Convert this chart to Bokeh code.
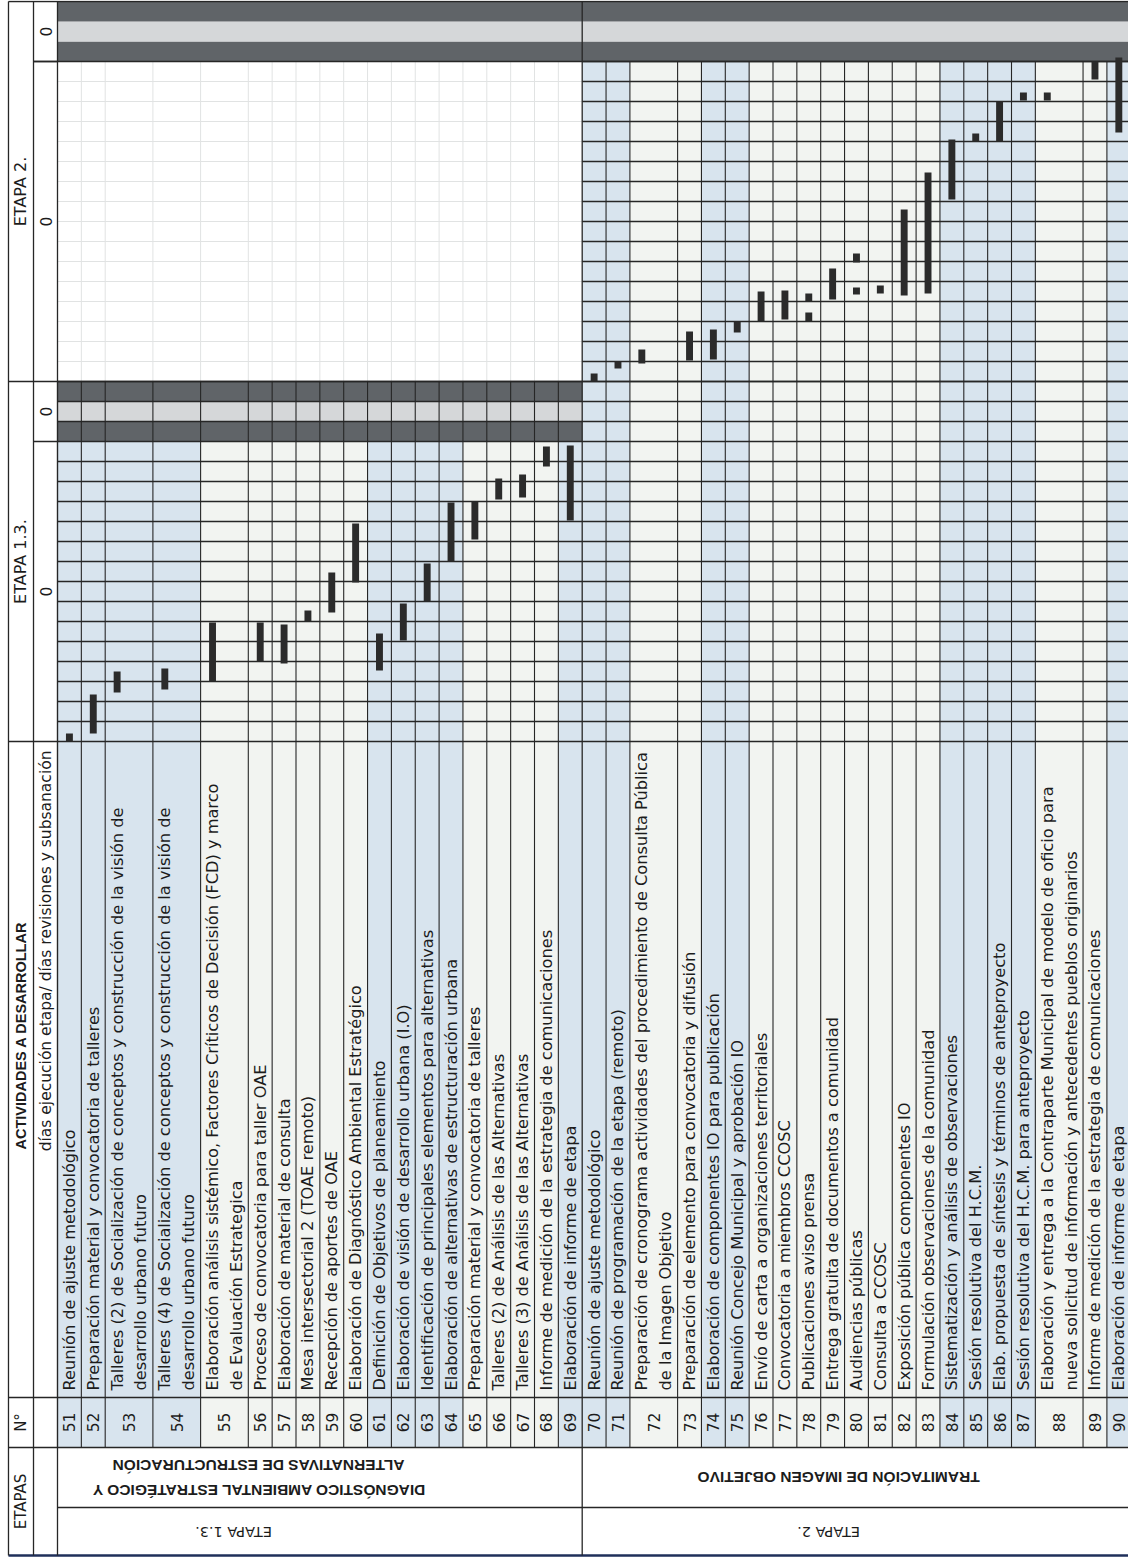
import math
from bokeh.plotting import figure
from bokeh.models import Range1d
from bokeh.core.properties import value
from bokeh.embed import file_html
from bokeh.resources import INLINE

# ---------------- data ----------------
task_no = list(range(51, 91))
task_text = [
    ["Reunión de ajuste metodológico"],
    ["Preparación material y convocatoria de talleres"],
    ["Talleres (2) de Socialización de conceptos y construcción de la visión de", "desarrollo urbano futuro"],
    ["Talleres (4) de Socialización de conceptos y construcción de la visión de", "desarrollo urbano futuro"],
    ["Elaboración análisis sistémico,  Factores Críticos de Decisión (FCD) y marco", "de Evaluación Estrategica"],
    ["Proceso de convocatoria para taller OAE"],
    ["Elaboración de material de consulta"],
    ["Mesa intersectorial 2 (TOAE remoto)"],
    ["Recepción de aportes de OAE"],
    ["Elaboración de  Diagnóstico Ambiental Estratégico"],
    ["Definición de Objetivos de planeamiento"],
    ["Elaboración de visión de desarrollo urbana (I.O)"],
    ["Identificación de principales elementos para alternativas"],
    ["Elaboración de alternativas de estructuración urbana"],
    ["Preparación  material y convocatoria de talleres"],
    ["Talleres (2) de  Análisis de las Alternativas"],
    ["Talleres (3) de  Análisis de las Alternativas"],
    ["Informe de medición de la estrategia de comunicaciones"],
    ["Elaboración de informe de etapa"],
    ["Reunión de ajuste metodológico"],
    ["Reunión de programación de la etapa (remoto)"],
    ["Preparación de cronograma actividades del procedimiento de Consulta Pública", "de la Imagen Objetivo"],
    ["Preparación de elemento para convocatoria y difusión"],
    ["Elaboración de componentes IO para publicación"],
    ["Reunión Concejo Municipal y aprobación IO"],
    ["Envío de carta a organizaciones territoriales"],
    ["Convocatoria a miembros CCOSC"],
    ["Publicaciones aviso prensa"],
    ["Entrega gratuita de documentos  a comunidad"],
    ["Audiencias públicas"],
    ["Consulta  a CCOSC"],
    ["Exposición pública componentes IO"],
    ["Formulación observaciones de la comunidad"],
    ["Sistematización y análisis de observaciones"],
    ["Sesión resolutiva del H.C.M."],
    ["Elab. propuesta de síntesis y términos de anteproyecto"],
    ["Sesión resolutiva del H.C.M. para anteproyecto"],
    ["Elaboración y entrega a la Contraparte Municipal de modelo de oficio para", "nueva solicitud de información y antecedentes pueblos originarios"],
    ["Informe de medición de la estrategia de comunicaciones"],
    ["Elaboración de informe de etapa"],
]
stage_names = ["ETAPA 1.3.", "ETAPA 2."]
stage_titles = [["DIAGNÓSTICO AMBIENTAL ESTRATÉGICO Y", "ALTERNATIVAS DE ESTRUCTURACIÓN"],
                ["TRAMITACIÓN DE IMAGEN OBJETIVO"]]
stage_first_task = [51, 70]
stage_last_task = [69, 90]
stage_exec_periods = [15, 16]
stage_rev_periods = [3, 3]
stage_exec_days = ["0", "0"]
stage_rev_days = ["0", "0"]
shaded_tasks = [51, 52, 53, 54, 61, 62, 63, 64, 69, 70, 71, 74, 75, 84, 85, 86, 87, 90]

# bars (task, start period, end period)
bar_task = [51, 52, 53, 54, 55, 56, 57, 58, 59, 60, 61, 62, 63, 64, 65, 66, 67, 68, 69,
            70, 71, 72, 73, 74, 75, 76, 77, 78, 78, 79, 80, 80, 81, 82, 83, 84, 85, 86,
            87, 88, 89, 90]
bar_start = [0.0, 0.4, 2.45, 2.6, 3.0, 4.0, 3.9, 6.0, 6.45, 7.95, 3.55, 5.05, 7.0, 9.0,
             10.1, 12.1, 12.2, 13.75, 11.05,
             18.0, 18.65, 18.9, 19.05, 19.1, 20.45, 21.0, 21.1, 21.0, 22.0, 22.1, 22.35,
             23.95, 22.4, 22.3, 22.4, 27.1, 30.0, 30.0, 32.05, 32.05, 33.1, 30.45]
bar_end = [0.4, 2.35, 3.5, 3.65, 5.95, 5.95, 5.85, 6.55, 8.45, 10.9, 5.4, 6.9, 8.9, 11.95,
           12.0, 13.15, 13.35, 14.75, 14.8,
           18.4, 19.0, 19.6, 20.5, 20.6, 21.0, 22.5, 22.55, 21.45, 22.4, 23.65, 22.7,
           24.4, 22.8, 26.6, 28.45, 30.1, 30.4, 32.0, 32.45, 32.45, 34.0, 34.2]

# ---------------- layout (data units: x = row units, y = periods) ----------------
PX_X = 23.85          # pixels per row unit
PX_Y = 20.0           # pixels per period
X_LEFT = -2.055       # outer left border
X_SUB = -1.006        # border between header strip and sub-header strip
Y_LAB = -32.8         # bottom of activity text column
Y_NUM = -35.3         # bottom of N° column
Y_DESC = -38.3        # bottom of stage description
Y_BOT = -40.7         # bottom border

units = [len(t) for t in task_text]
left = []
acc = 0.0
for u in units:
    left.append(acc)
    acc += u
right = [l + u for l, u in zip(left, units)]
X_END = acc
idx = {n: i for i, n in enumerate(task_no)}

t_s1_end = stage_exec_periods[0] + stage_rev_periods[0]                 # 18
t_s2_exec_end = t_s1_end + stage_exec_periods[1]                        # 34
t_top = t_s2_exec_end + stage_rev_periods[1]                            # 37
stage_x0 = [left[idx[stage_first_task[0]]], left[idx[stage_first_task[1]]]]
stage_x1 = [right[idx[stage_last_task[0]]], right[idx[stage_last_task[1]]]]
x_split = stage_x0[1]

W, H = 1128, 1564
x0r = -57.0 / PX_X
y1r = 741.0 / PX_Y
p = figure(width=W, height=H, output_backend="svg", toolbar_location=None,
           x_range=Range1d(x0r, x0r + W / PX_X),
           y_range=Range1d(y1r - H / PX_Y, y1r),
           x_axis_location=None, y_axis_location=None, min_border=0)
p.outline_line_color = None
p.grid.visible = False
p.background_fill_color = "white"
p.border_fill_color = "white"

BLUE = "#d8e4ee"
PLAIN = "#f2f4f1"
DARK = "#606468"
LIGHT = "#d5d7d9"
LINE = "#262626"
FAINT = "#e1e3e3"

row_col = [BLUE if n in shaded_tasks else PLAIN for n in task_no]

# row colour strips: activity columns + grid
s1 = [i for i, n in enumerate(task_no) if n <= stage_last_task[0]]
s2 = [i for i, n in enumerate(task_no) if n >= stage_first_task[1]]
p.quad(left=[left[i] for i in s1], right=[right[i] for i in s1],
       bottom=[Y_NUM] * len(s1), top=[stage_exec_periods[0]] * len(s1),
       fill_color=[row_col[i] for i in s1], line_color=None)
p.quad(left=[left[i] for i in s2], right=[right[i] for i in s2],
       bottom=[Y_NUM] * len(s2), top=[t_s2_exec_end] * len(s2),
       fill_color=[row_col[i] for i in s2], line_color=None)

# revision bands
r0 = stage_exec_periods[0]
p.quad(left=[stage_x0[0]] * 3, right=[stage_x1[0]] * 3,
       bottom=[r0, r0 + 1, r0 + 2], top=[r0 + 1, r0 + 2, r0 + 3],
       fill_color=[DARK, LIGHT, DARK], line_color=None)
r1 = t_s2_exec_end
p.quad(left=[0] * 3, right=[X_END] * 3,
       bottom=[r1, r1 + 1, r1 + 2], top=[r1 + 1, r1 + 2, r1 + 3],
       fill_color=[DARK, LIGHT, DARK], line_color=None)

# faint grid: stage 1.3 rows during stage 2
fx = [b for b in sorted(set(left[i] for i in s1) | set(right[i] for i in s1)) if 0 < b < x_split]
p.segment(x0=fx, x1=fx, y0=[t_s1_end] * len(fx), y1=[t_s2_exec_end] * len(fx), line_color=FAINT, line_width=1)
ft = list(range(t_s1_end + 1, t_s2_exec_end))
p.segment(x0=[0] * len(ft), x1=[x_split] * len(ft), y0=ft, y1=ft, line_color=FAINT, line_width=1)

# dark vertical grid lines
vx, vy0, vy1 = [], [], []
for i in s1:
    vx.append(left[i]); vy0.append(Y_NUM); vy1.append(t_s1_end)
for i in s2:
    vx.append(right[i]); vy0.append(Y_NUM); vy1.append(t_s2_exec_end)
p.segment(x0=vx, x1=vx, y0=vy0, y1=vy1, line_color=LINE, line_width=1.1)

# dark horizontal grid lines
hy = list(range(1, t_s1_end + 1))
p.segment(x0=[0] * len(hy), x1=[X_END] * len(hy), y0=hy, y1=hy, line_color=LINE, line_width=1.5)
hy2 = list(range(t_s1_end + 1, t_s2_exec_end + 1))
p.segment(x0=[x_split] * len(hy2), x1=[X_END] * len(hy2), y0=hy2, y1=hy2, line_color=LINE, line_width=1.5)

# table frame lines
fr_x0 = [X_LEFT, X_SUB, X_LEFT, X_SUB, X_SUB, X_LEFT, X_LEFT, X_LEFT, 0]
fr_x1 = [X_END, 0, X_END, 0, X_END, X_END, X_END, X_END, X_END]
fr_y = [0, r0, t_s1_end, t_s2_exec_end, t_s2_exec_end, t_top, Y_LAB, Y_NUM, Y_DESC]
p.segment(x0=fr_x0, x1=fr_x1, y0=fr_y, y1=fr_y, line_color=LINE, line_width=1.3)
p.segment(x0=[X_LEFT], x1=[X_END], y0=[Y_BOT], y1=[Y_BOT], line_color="#1f2f5a", line_width=2.5)
p.segment(x0=[X_LEFT, X_SUB, 0, x_split],
          x1=[X_LEFT, X_SUB, 0, x_split],
          y0=[Y_BOT, Y_BOT, Y_BOT, Y_BOT],
          y1=[t_top, t_top, t_top, t_top], line_color=LINE, line_width=1.3)

# bars
bx = [left[idx[n]] + 0.5 for n in bar_task]
p.vbar(x=bx, width=0.29, bottom=bar_start, top=bar_end, fill_color="#2b2b2b", line_color=None)

FONT = value("DejaVu Sans")
FONT2 = value("Liberation Sans")
HALF = math.pi / 2
TC = "#1c1c1c"

# activity texts
tx, ty, tt = [], [], []
for i, lines in enumerate(task_text):
    for k, s in enumerate(lines):
        tx.append(left[i] + 0.5 + k); ty.append(Y_LAB + 0.35); tt.append(s)
p.text(x=tx, y=ty, text=tt, angle=HALF, text_font=FONT, text_font_size="16.2px",
       text_align="left", text_baseline="middle", text_color=TC)
# numbers
nx = [(l + r) / 2 for l, r in zip(left, right)]
p.text(x=nx, y=[(Y_LAB + Y_NUM) / 2] * len(nx), text=[str(n) for n in task_no], angle=HALF,
       text_font=FONT, text_font_size="15.5px", text_align="center", text_baseline="middle",
       text_color=TC)

# header strip
hx = (X_LEFT + X_SUB) / 2
sx = (X_SUB + 0) / 2
p.text(x=[hx, hx], y=[(Y_NUM + Y_BOT) / 2, (Y_LAB + Y_NUM) / 2], text=["ETAPAS", "N°"], angle=HALF,
       text_font=FONT, text_font_size="15px", text_align="center", text_baseline="middle",
       text_color=TC)
p.text(x=[hx], y=[-14.7], text=["ACTIVIDADES A DESARROLLAR"], angle=HALF, text_font=FONT2,
       text_font_size="14.5px", text_font_style="bold", text_align="center", text_baseline="middle",
       text_color=TC)
p.text(x=[sx], y=[-0.45], text=["días ejecución etapa/ días revisiones y subsanación"], angle=HALF,
       text_font=FONT, text_font_size="15.5px", text_align="right", text_baseline="middle",
       text_color=TC)
p.text(x=[hx, hx], y=[t_s1_end / 2, (t_s1_end + t_top) / 2], text=stage_names, angle=HALF,
       text_font=FONT, text_font_size="16px", text_align="center", text_baseline="middle",
       text_color=TC)
p.text(x=[sx] * 4,
       y=[r0 / 2, r0 + stage_rev_periods[0] / 2, (t_s1_end + t_s2_exec_end) / 2, t_s2_exec_end + stage_rev_periods[1] / 2],
       text=[stage_exec_days[0], stage_rev_days[0], stage_exec_days[1], stage_rev_days[1]], angle=HALF,
       text_font=FONT, text_font_size="15.5px", text_align="center", text_baseline="middle",
       text_color=TC)

# stage cells (upside-down text)
desc_dx = [8.43, 10.75]
name_dx = [7.38, 10.33]
mid = (Y_NUM + Y_DESC) / 2
for k in range(2):
    lines = stage_titles[k]
    n = len(lines)
    p.text(x=[stage_x0[k] + desc_dx[k]] * n, y=[mid + (j - (n - 1) / 2) * 1.25 for j in range(n)],
           text=lines, angle=math.pi, text_font=FONT2, text_font_size="15.5px", text_font_style="bold",
           text_align="center", text_baseline="middle", text_color=TC)
    p.text(x=[stage_x0[k] + name_dx[k]], y=[(Y_DESC + Y_BOT) / 2], text=[stage_names[k]], angle=math.pi,
           text_font=FONT, text_font_size="14.5px", text_align="center", text_baseline="middle",
           text_color=TC)

open("out.html", "w").write(file_html(p, INLINE))
